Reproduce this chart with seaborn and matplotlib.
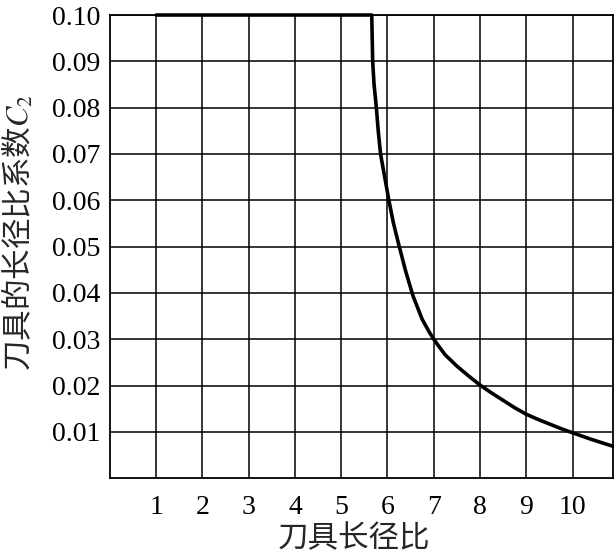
import matplotlib
matplotlib.use("Agg")
import matplotlib.pyplot as plt
import numpy as np
import pandas as pd
import seaborn as sns

# values
ratio = [1.0, 5.66, 5.67, 5.68, 5.71, 5.76, 5.80, 5.85, 5.94, 6.03, 6.13, 6.25, 6.39, 6.55,
         6.75, 6.9, 7.0, 7.1, 7.25, 7.5, 7.75, 8.0, 8.25, 8.5, 8.75, 9.0, 9.25, 9.5, 9.75,
         10.0, 10.4, 10.87]
coef = [0.10, 0.10, 0.095, 0.09, 0.085, 0.08, 0.075, 0.07, 0.065, 0.06, 0.055, 0.0502, 0.0448, 0.0394,
        0.0343, 0.0316, 0.030, 0.0286, 0.0266, 0.0242, 0.0221, 0.0201, 0.0184, 0.0168, 0.0152,
        0.0138, 0.0127, 0.0117, 0.0107, 0.0098, 0.0084, 0.0069]
x_ticks = [1, 2, 3, 4, 5, 6, 7, 8, 9, 10]
y_ticks = [0.01, 0.02, 0.03, 0.04, 0.05, 0.06, 0.07, 0.08, 0.09, 0.10]

sns.set_style("white")
plt.rcParams["font.family"] = ["Liberation Serif", "Noto Sans CJK SC"]
plt.rcParams["mathtext.fontset"] = "stix"

df = pd.DataFrame({"ratio": ratio, "coef": coef})

fig = plt.figure(figsize=(6.14, 5.56), dpi=100)
ax = fig.add_axes([0.179, 0.140, 0.819, 0.833])

sns.lineplot(data=df, x="ratio", y="coef", sort=False, estimator=None,
             color="black", linewidth=2.6, ax=ax, clip_on=False, zorder=5)

ax.set_xlim(0, 10.87)
ax.set_ylim(0, 0.10)
ax.set_xticks(x_ticks)
ax.set_yticks(y_ticks)
ax.set_xticklabels([str(v) for v in x_ticks])
ax.set_yticklabels([f"{v:.2f}" for v in y_ticks])
ax.grid(True, color="black", linewidth=1.1)
ax.set_axisbelow(True)
for s in ax.spines.values():
    s.set_color("black")
    s.set_linewidth(1.3)
ax.tick_params(axis="both", length=0, labelsize=20, colors="black")
ax.tick_params(axis="x", pad=12)
ax.tick_params(axis="y", pad=7)

ax.set_xlabel("刀具长径比", fontsize=22, family=["Noto Sans CJK SC"])
ax.xaxis.set_label_coords(0.485, -0.098)
ax.set_ylabel("刀具的长径比系数$C_2$", fontsize=22, family=["Noto Sans CJK SC", "DejaVu Sans"])
ax.yaxis.set_label_coords(-0.147, 0.53)

fig.savefig("out.png", dpi=100)
